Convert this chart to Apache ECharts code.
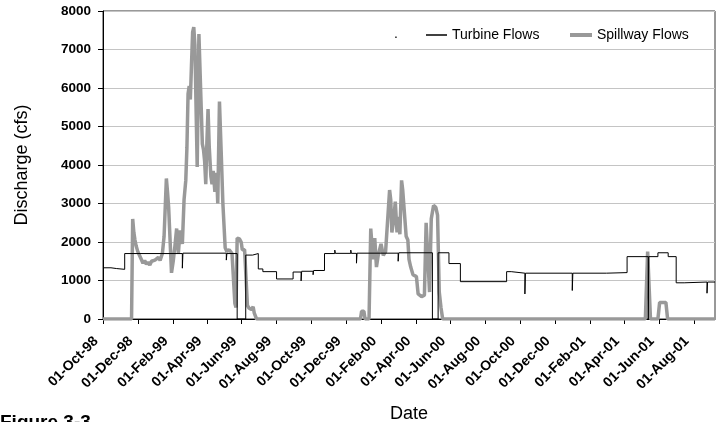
<!DOCTYPE html>
<html>
<head>
<meta charset="utf-8">
<script src="https://cdn.jsdelivr.net/npm/echarts@6/dist/echarts.min.js"></script>
<style>
html,body{margin:0;padding:0;background:#fff;}
#chart{width:717px;height:422px;}
</style>
</head>
<body>
<div id="chart"></div>
<script>
// ---- Data ----
var seriesNames = ['Turbine Flows', 'Spillway Flows'];

var turbineDates = [
 '1998-10-01','1998-10-15','1998-10-25','1998-11-08','1999-02-17','1999-02-18',
 '1999-05-05','1999-05-06','1999-05-24','1999-06-08','1999-06-20','1999-06-30',
 '1999-07-08','1999-08-01','1999-08-30','1999-09-13','1999-09-14','1999-10-04',
 '1999-10-05','1999-10-24','1999-11-11','1999-11-12','1999-12-09','1999-12-10',
 '1999-12-19','1999-12-20','2000-03-01','2000-03-02','2000-04-30','2000-05-10',
 '2000-05-29','2000-06-18','2000-09-07','2000-09-15','2000-10-09','2000-10-10',
 '2000-12-31','2001-01-01','2001-03-01','2001-04-06','2001-05-13','2001-05-14',
 '2001-05-30','2001-06-17','2001-07-01','2001-07-15','2001-08-24','2001-08-25',
 '2001-09-07'
];
var turbineValues = [
 1330,1310,1290,1700,1320,1710,
 1530,1700,0,1660,1700,1300,
 1230,1040,1220,990,1240,1150,
 1260,1700,1790,1705,1790,1705,
 1450,1710,1500,1720,0,1720,
 1440,970,1230,1190,650,1190,
 740,1190,1205,1620,0,1620,
 1720,1620,940,960,670,960,
 960
];

var spillDates = [
 '1998-10-01','1998-11-20','1998-11-22','1998-11-24','1998-11-26','1998-11-28',
 '1998-12-01','1998-12-04','1998-12-07','1998-12-10','1998-12-13','1998-12-16',
 '1998-12-19','1998-12-22','1998-12-25','1998-12-28','1998-12-31','1999-01-03',
 '1999-01-06','1999-01-09','1999-01-13','1999-01-16','1999-01-20','1999-01-22',
 '1999-01-24','1999-01-29','1999-02-01','1999-02-04','1999-02-07','1999-02-10',
 '1999-02-13','1999-02-17','1999-02-20','1999-02-23','1999-02-25','1999-02-27',
 '1999-03-01','1999-03-03','1999-03-05','1999-03-07','1999-03-09','1999-03-11',
 '1999-03-13','1999-03-15','1999-03-18','1999-03-20','1999-03-22','1999-03-24',
 '1999-03-26','1999-03-28','1999-03-30','1999-04-01','1999-04-03','1999-04-05',
 '1999-04-08','1999-04-10','1999-04-12','1999-04-15','1999-04-18','1999-04-20',
 '1999-04-23','1999-04-26','1999-04-29','1999-05-03','1999-05-06','1999-05-10',
 '1999-05-15','1999-05-18','1999-05-20','1999-05-22','1999-05-24','1999-05-28',
 '1999-05-31','1999-06-02','1999-06-06','1999-06-09','1999-06-11','1999-06-14',
 '1999-06-18','1999-06-21','1999-06-23','1999-06-27',
 '1999-12-26','1999-12-28','2000-01-01','2000-01-03','2000-01-10','2000-01-13',
 '2000-01-17','2000-01-20','2000-01-23','2000-01-26','2000-01-31','2000-02-04',
 '2000-02-08','2000-02-11','2000-02-15','2000-02-17','2000-02-19','2000-02-22',
 '2000-02-25','2000-02-28','2000-03-02','2000-03-04','2000-03-07','2000-03-09',
 '2000-03-12','2000-03-15','2000-03-18','2000-03-20','2000-03-23','2000-03-27',
 '2000-04-02','2000-04-05','2000-04-11','2000-04-16','2000-04-19','2000-04-22',
 '2000-04-25','2000-04-28','2000-05-02','2000-05-06','2000-05-09','2000-05-12',
 '2000-05-15','2000-05-18',
 '2001-05-08','2001-05-12','2001-05-13','2001-05-17','2001-05-30','2001-06-02',
 '2001-06-13','2001-06-16','2001-09-07'
];
var spillValues = [
 0,0,2600,2250,2050,1900,
 1750,1650,1550,1450,1520,1420,
 1480,1400,1500,1450,1530,1480,
 1600,1520,1700,2150,3650,3300,
 2900,1200,1500,1900,2350,1700,
 2300,1950,3100,3600,4450,5850,
 6050,5700,6600,7450,7580,7100,
 5500,3950,7400,7400,5500,4550,
 4400,4100,3500,4600,5450,4500,
 3700,3500,3850,3300,3800,3000,
 5650,4350,3000,1850,1750,1800,
 1700,1650,400,300,2100,2080,
 2000,1800,1800,1780,350,280,
 250,320,150,0,
 0,200,200,0,0,2350,
 1550,2100,1350,1650,1950,1650,
 1750,1800,3350,3100,2250,2550,
 3050,2250,2650,2200,3600,3350,
 3400,2150,2050,1550,1350,1150,
 1100,650,580,620,2500,2450,
 700,2600,2950,2900,2700,700,
 300,0,
 0,1750,1750,0,0,430,
 430,0,0
];

var tickDates = [
 '1998-10-01','1998-12-01','1999-02-01','1999-04-01','1999-06-01','1999-08-01',
 '1999-10-01','1999-12-01','2000-02-01','2000-04-01','2000-06-01','2000-08-01',
 '2000-10-01','2000-12-01','2001-02-01','2001-04-01','2001-06-01','2001-08-01'
];
var tickLabels = [
 '01-Oct-98','01-Dec-98','01-Feb-99','01-Apr-99','01-Jun-99','01-Aug-99',
 '01-Oct-99','01-Dec-99','01-Feb-00','01-Apr-00','01-Jun-00','01-Aug-00',
 '01-Oct-00','01-Dec-00','01-Feb-01','01-Apr-01','01-Jun-01','01-Aug-01'
];
var axisStart = '1998-10-01';
var axisEnd = '2001-09-07';

// ---- helpers ----
function dayNum(s) {
  var p = s.split('-');
  var t = Date.UTC(+p[0], +p[1] - 1, +p[2]);
  var a = axisStart.split('-');
  var t0 = Date.UTC(+a[0], +a[1] - 1, +a[2]);
  return Math.round((t - t0) / 86400000);
}
function pairs(dates, vals) {
  return dates.map(function (d, i) { return [dayNum(d), vals[i]]; });
}
var tickDays = tickDates.map(dayNum);
var labelMap = {};
tickDays.forEach(function (d, i) { labelMap[d] = tickLabels[i]; });

var chart = echarts.init(document.getElementById('chart'), null, {renderer: 'canvas'});
var FONT = '"Liberation Sans", Arial, sans-serif';
chart.setOption({
  animation: false,
  backgroundColor: '#ffffff',
  textStyle: {fontFamily: FONT},
  grid: {
    left: 103, top: 11, right: 2, bottom: 103,
    show: true, borderColor: '#333', borderWidth: 1,
    containLabel: false, outerBoundsMode: 'none'
  },
  legend: [
    {
      data: [{name: seriesNames[0], icon: 'rect'}],
      left: 426, top: 28, padding: 0, itemWidth: 21, itemHeight: 1.5,
      itemStyle: {color: '#000'},
      textStyle: {fontFamily: FONT, fontSize: 14, color: '#000'}
    },
    {
      data: [{name: seriesNames[1], icon: 'rect'}],
      left: 570, top: 28, padding: 0, itemWidth: 22, itemHeight: 4,
      itemStyle: {color: '#999999'},
      textStyle: {fontFamily: FONT, fontSize: 14, color: '#000'}
    }
  ],
  graphic: [
    {type: 'text', left: 394, top: 27, style: {text: '.', font: '14px ' + FONT, fill: '#000'}},
    {type: 'text', left: 0, top: 413, style: {text: 'Figure 3-3', font: 'bold 19px ' + FONT, fill: '#000'}}
  ],
  xAxis: {
    type: 'value',
    min: 0, max: dayNum(axisEnd),
    name: 'Date', nameLocation: 'middle', nameGap: 86,
    nameTextStyle: {fontSize: 18, color: '#000', fontFamily: FONT},
    axisLine: {show: true, lineStyle: {color: '#000', width: 1}},
    axisTick: {show: true, customValues: tickDays, length: 5, inside: false, lineStyle: {color: '#000'}},
    axisLabel: {
      customValues: tickDays, rotate: 45, margin: 13,
      padding: [0, 10, 0, 0],
      fontSize: 14, fontWeight: 'bold', color: '#000', fontFamily: FONT,
      formatter: function (v) { return labelMap[Math.round(v)] || ''; }
    },
    splitLine: {show: false}
  },
  yAxis: {
    type: 'value', min: 0, max: 8000, interval: 1000,
    name: 'Discharge (cfs)', nameLocation: 'middle', nameGap: 72,
    nameTextStyle: {fontSize: 18, color: '#000', fontFamily: FONT},
    axisLine: {show: true, lineStyle: {color: '#000', width: 1}},
    axisTick: {show: true, length: 5, lineStyle: {color: '#000'}},
    axisLabel: {
      margin: 12, fontSize: 13.5, fontWeight: 'bold', color: '#000', fontFamily: FONT,
      formatter: function (v) { return String(v); }
    },
    splitLine: {show: true, lineStyle: {color: '#c4c4c4', width: 1}}
  },
  series: [
    {
      name: 'Spillway Flows', type: 'line', symbol: 'none', z: 2,
      data: pairs(spillDates, spillValues),
      lineStyle: {color: '#999999', width: 3.5},
      itemStyle: {color: '#999999'}
    },
    {
      name: 'Turbine Flows', type: 'line', symbol: 'none', step: 'end', z: 3,
      data: pairs(turbineDates, turbineValues),
      lineStyle: {color: '#000000', width: 1},
      itemStyle: {color: '#000000'}
    }
  ]
});
</script>
</body>
</html>
